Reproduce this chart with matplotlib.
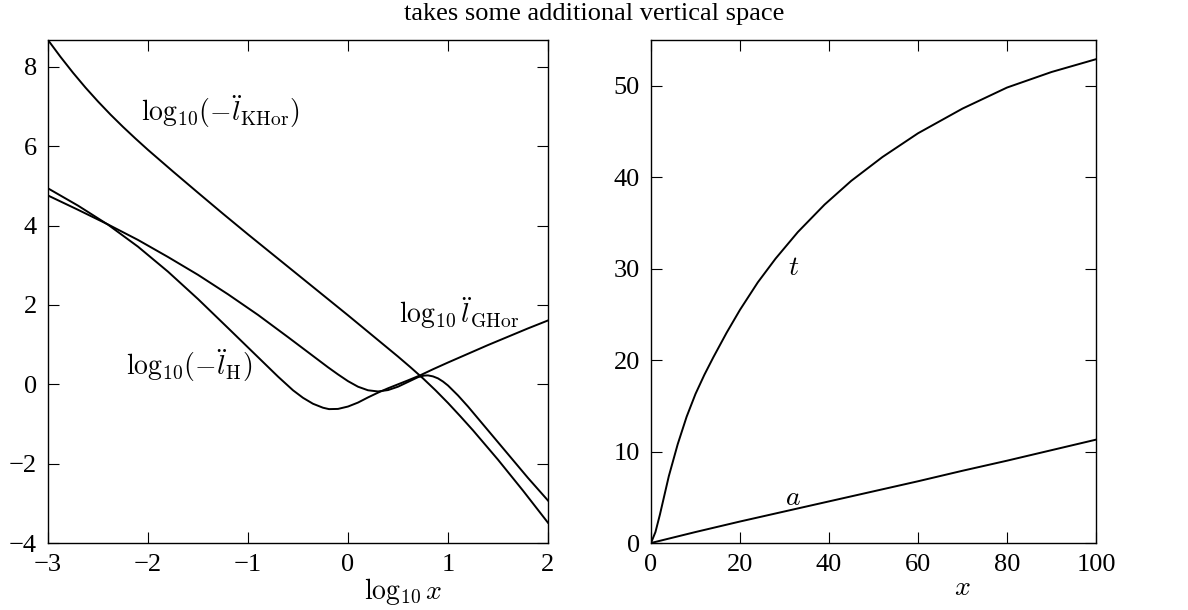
import matplotlib
matplotlib.use("Agg")
import matplotlib.pyplot as plt

# left panel: log10 x against the three log10 |l''| curves
lx_khor = [-3, -2.875, -2.75, -2.625, -2.5, -2.375, -2.25, -2.125, -2.0, -1.75, -1.5,
           -1.25, -1.0, -0.75, -0.5, -0.25, 0, 0.25, 0.5, 0.625, 0.75, 0.875, 1.0,
           1.125, 1.25, 1.5, 1.75, 2.0]
ly_khor = [8.68, 8.255, 7.855, 7.48, 7.13, 6.80, 6.49, 6.195, 5.91, 5.365, 4.83,
           4.30, 3.78, 3.27, 2.76, 2.25, 1.74, 1.22, 0.70, 0.43, 0.15, -0.15, -0.47,
           -0.81, -1.16, -1.90, -2.68, -3.49]

lx_bump = [-3, -2.7, -2.4, -2.1, -1.8, -1.5, -1.2, -0.9, -0.6, -0.4, -0.2, -0.1, 0.0,
           0.1, 0.2, 0.3, 0.4, 0.5, 0.6, 0.7, 0.76, 0.8, 0.85, 0.9, 0.95, 1.0, 1.1,
           1.2, 1.3, 1.45, 1.6, 1.8, 2.0]
ly_bump = [4.76, 4.40, 4.03, 3.64, 3.21, 2.76, 2.27, 1.75, 1.19, 0.81, 0.43, 0.25, 0.08,
           -0.06, -0.15, -0.18, -0.145, -0.06, 0.06, 0.18, 0.22, 0.225, 0.20, 0.15, 0.07,
           -0.03, -0.28, -0.56, -0.86, -1.31, -1.76, -2.36, -2.93]

lx_deep = [-3, -2.7, -2.4, -2.1, -1.8, -1.5, -1.2, -0.9, -0.7, -0.55, -0.45, -0.35,
           -0.25, -0.19, -0.1, 0.0, 0.1, 0.2, 0.3, 0.4, 0.5, 0.6, 0.72, 0.85, 1.0, 1.2,
           1.4, 1.6, 1.8, 2.0]
ly_deep = [4.94, 4.505, 4.025, 3.47, 2.84, 2.15, 1.42, 0.685, 0.195, -0.15, -0.34, -0.49,
           -0.59, -0.625, -0.62, -0.56, -0.46, -0.33, -0.21, -0.10, 0.0, 0.10, 0.225,
           0.38, 0.55, 0.77, 0.99, 1.20, 1.41, 1.61]

# right panel: t(x) and a(x)
rx_t = [0, 1, 2, 3, 4, 6, 8, 10, 12, 14, 17, 20, 24, 28, 33, 39, 45, 52, 60, 70, 80,
        90, 100]
ry_t = [0, 1.2, 3.1, 5.2, 7.3, 10.8, 13.8, 16.3, 18.4, 20.3, 23.0, 25.5, 28.5, 31.1,
        34.0, 37.0, 39.6, 42.2, 44.8, 47.5, 49.8, 51.5, 52.9]
rx_a = [0, 10, 20, 30, 40, 50, 60, 70, 80, 90, 100]
ry_a = [0, 1.2, 2.35, 3.45, 4.55, 5.65, 6.75, 7.9, 9.0, 10.15, 11.3]

left_xticks = [-3, -2, -1, 0, 1, 2]
left_yticks = [-4, -2, 0, 2, 4, 6, 8]
right_xticks = [0, 20, 40, 60, 80, 100]
right_yticks = [0, 10, 20, 30, 40, 50]

plt.rcParams['font.family'] = ['Liberation Serif', 'DejaVu Serif']
plt.rcParams['mathtext.fontset'] = 'cm'

W, H = 1188, 610
fig = plt.figure(figsize=(W / 100, H / 100), dpi=100)
ax1 = fig.add_axes([48 / W, 67 / H, 500 / W, 503 / H])
ax2 = fig.add_axes([651 / W, 67 / H, 445 / W, 503 / H])

for ax in (ax1, ax2):
    ax.tick_params(direction='in', length=8, width=0.8, top=True, right=True,
                   labelsize=19, pad=8)
    for sp in ax.spines.values():
        sp.set_linewidth(1.0)

ax1.plot(lx_khor, ly_khor, color='black', lw=1.4)
ax1.plot(lx_bump, ly_bump, color='black', lw=1.4)
ax1.plot(lx_deep, ly_deep, color='black', lw=1.4)
ax1.set_xlim(-3, 2)
ax1.set_ylim(-4, 8.68)
ax1.set_xticks(left_xticks)
ax1.set_yticks(left_yticks)
ax1.text(-2.07, 6.64, r'$\mathrm{log}_{10}(-\ddot{l}_{\mathrm{KHor}})$', fontsize=20)
ax1.text(-2.22, 0.24, r'$\mathrm{log}_{10}(-\ddot{l}_{\mathrm{H}})$', fontsize=20)
ax1.text(0.51, 1.54, r'$\mathrm{log}_{10}\,\ddot{l}_{\mathrm{GHor}}$', fontsize=20)
ax1.set_xlabel(r'$\mathrm{log}_{10}\,x$', fontsize=20)
ax1.xaxis.set_label_coords(0.71, -0.066)

ax2.plot(rx_t, ry_t, color='black', lw=1.4)
ax2.plot(rx_a, ry_a, color='black', lw=1.4)
ax2.set_xlim(0, 100)
ax2.set_ylim(0, 55)
ax2.set_xticks(right_xticks)
ax2.set_yticks(right_yticks)
ax2.text(32, 30.0, r'$t$', fontsize=20, ha='center', va='center')
ax2.text(32, 4.9, r'$a$', fontsize=20, ha='center', va='center')
ax2.set_xlabel(r'$x$', fontsize=20)
ax2.xaxis.set_label_coords(0.7, -0.066)

fig.text(0.5, 1 - 20 / H, 'takes some additional vertical space', fontsize=19,
         ha='center', va='baseline')

fig.savefig('out.png', dpi=100)
